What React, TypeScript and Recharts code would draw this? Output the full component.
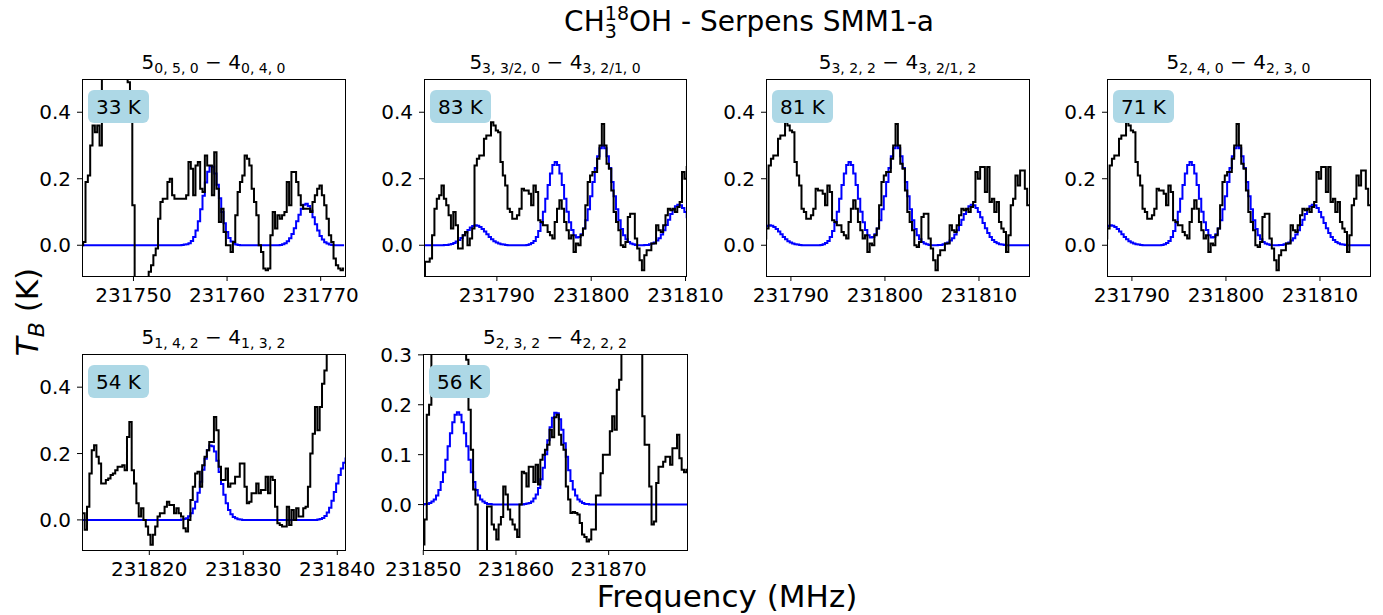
import { LineChart, Line, XAxis, YAxis } from "recharts";

const FONT = "DejaVu Sans, sans-serif";
const CHAN = 0.25; // MHz per channel

// 5(0,5,0)-4(0,4,0) window
const startA = 231744.5;
const obsA = [
  0.0, 0.01, 0.19, 0.21,
  0.3, 0.36, 0.34, 0.36,
  0.3, 0.55, 0.6, 0.6,
  0.6, 0.6, 0.6, 0.6,
  0.6, 0.6, 0.6, 0.6,
  0.49, 0.4, 0.12, -0.2,
  -0.2, -0.2, -0.2, -0.2,
  -0.2, -0.08, -0.06, -0.03,
  -0.01, 0.08, 0.13, 0.14,
  0.14, 0.19, 0.2, 0.15,
  0.14, 0.14, 0.14, 0.14,
  0.14, 0.15, 0.25, 0.23,
  0.15, 0.24, 0.25, 0.17,
  0.16, 0.27, 0.24, 0.24,
  0.15, 0.28, 0.17, 0.07,
  0.11, 0.04, 0.0, 0.0,
  -0.02, 0.01, 0.09, 0.16,
  0.19, 0.21, 0.27, 0.26,
  0.24, 0.17, 0.13, 0.09,
  0.0, -0.02, -0.07, -0.075,
  -0.07, 0.03, 0.1, 0.05,
  0.09, 0.08, 0.09, 0.1,
  0.19, 0.12, 0.22, 0.22,
  0.19, 0.15, 0.12, 0.11,
  0.11, 0.11, 0.1, 0.13,
  0.15, 0.17, 0.18, 0.15,
  0.12, 0.08, 0.03, 0.01,
  -0.04, -0.06, -0.07, -0.075,
  -0.07,
];
const modA = [
  0, 0, 0, 0,
  0, 0, 0, 0,
  0, 0, 0, 0,
  0, 0, 0, 0,
  0, 0, 0, 0,
  0, 0, 0, 0,
  0, 0, 0, 0,
  0, 0, 0, 0,
  0, 0, 0, 0,
  0, 0, 0, 0,
  0, 0, 0, 0.001,
  0.002, 0.003, 0.006, 0.013,
  0.025, 0.044, 0.072, 0.108,
  0.149, 0.189, 0.221, 0.238,
  0.236, 0.216, 0.182, 0.141,
  0.1, 0.066, 0.04, 0.022,
  0.011, 0.005, 0.002, 0.001,
  0, 0, 0, 0,
  0, 0, 0, 0,
  0, 0, 0, 0,
  0, 0, 0, 0,
  0, 0.001, 0.003, 0.006,
  0.012, 0.021, 0.034, 0.051,
  0.072, 0.092, 0.11, 0.122,
  0.125, 0.118, 0.104, 0.084,
  0.063, 0.044, 0.028, 0.017,
  0.009, 0.005, 0.002, 0.001,
  0, 0, 0, 0,
  0,
];

// shared window for the three K=3/K=2 lines
const startB = 231782.25;
const obsB = [
  -0.1, -0.05, -0.05, -0.04,
  0.03, 0.11, 0.14, 0.15,
  0.18, 0.14, 0.12, 0.09,
  0.05, 0.1, 0.06, -0.01,
  -0.01, 0.03, 0.04, 0.0,
  0.02, 0.05, 0.24, 0.26,
  0.27, 0.27, 0.32, 0.33,
  0.33, 0.37, 0.36, 0.345,
  0.34, 0.25, 0.21, 0.18,
  0.11, 0.1, 0.08, 0.08,
  0.09, 0.11, 0.17, 0.165,
  0.165, 0.155, 0.12, 0.18,
  0.16, 0.075, 0.07, 0.06,
  0.06, 0.04, 0.03, 0.02,
  0.07, 0.11, 0.135, 0.11,
  0.07, 0.045, 0.02, 0.03,
  -0.02, 0.005, 0.0, 0.03,
  0.05, 0.12, 0.19, 0.21,
  0.22, 0.22, 0.26, 0.3,
  0.365, 0.3, 0.245, 0.23,
  0.165, 0.1, 0.07, 0.045,
  0.0, -0.005, 0.01, 0.085,
  0.095, 0.095, 0.02, -0.01,
  -0.045, -0.075, -0.03, -0.015,
  -0.015, 0.005, 0.005, 0.06,
  0.045, 0.04, 0.06, 0.09,
  0.11, 0.105, 0.11, 0.1,
  0.115, 0.13, 0.22, 0.2,
  0.235, 0.235, 0.16, 0.235,
  0.13, 0.14, 0.1, 0.13,
  0.07, 0.05, 0.04, -0.02,
  0.03, 0.12, 0.14, 0.21,
  0.18, 0.225, 0.225, 0.17,
  0.12, 0.12,
];
const modB = [
  0, 0, 0, 0,
  0, 0, 0, 0,
  0, 0.001, 0.001, 0.002,
  0.004, 0.007, 0.011, 0.016,
  0.022, 0.03, 0.038, 0.046,
  0.053, 0.058, 0.06, 0.059,
  0.055, 0.049, 0.041, 0.033,
  0.025, 0.018, 0.012, 0.008,
  0.005, 0.003, 0.002, 0.001,
  0, 0, 0, 0,
  0, 0, 0, 0,
  0.001, 0.003, 0.007, 0.013,
  0.025, 0.043, 0.068, 0.101,
  0.14, 0.181, 0.216, 0.241,
  0.25, 0.241, 0.216, 0.181,
  0.14, 0.101, 0.069, 0.046,
  0.03, 0.023, 0.025, 0.033,
  0.05, 0.075, 0.108, 0.147,
  0.19, 0.232, 0.268, 0.292,
  0.3, 0.292, 0.268, 0.232,
  0.19, 0.147, 0.108, 0.075,
  0.049, 0.03, 0.018, 0.01,
  0.005, 0.003, 0.001, 0,
  0, 0, 0.001, 0.001,
  0.003, 0.005, 0.008, 0.014,
  0.021, 0.032, 0.045, 0.061,
  0.077, 0.094, 0.108, 0.117,
  0.122, 0.12, 0.112, 0.1,
  0.084, 0.067, 0.051, 0.037,
  0.025, 0.016, 0.01, 0.006,
  0.003, 0.002, 0.001, 0,
  0, 0, 0, 0,
  0, 0, 0, 0,
  0, 0,
];

// 5(1,4,2)-4(1,3,2) window
const startC = 231812.75;
const obsC = [
  0.02, 0.02, -0.03, 0.04,
  0.14, 0.21, 0.225, 0.19,
  0.17, 0.11, 0.11, 0.12,
  0.125, 0.135, 0.14, 0.15,
  0.16, 0.16, 0.165, 0.15,
  0.25, 0.295, 0.15, 0.11,
  0.05, 0.01, 0.035, 0.0,
  -0.02, -0.045, -0.075, -0.045,
  -0.02, 0.01, 0.02, 0.02,
  0.04, 0.055, 0.045, 0.045,
  0.02, 0.035, 0.02, 0.01,
  -0.025, -0.035, 0.0, 0.06,
  0.1, 0.14, 0.145, 0.1,
  0.165, 0.19, 0.21, 0.235,
  0.235, 0.31, 0.27, 0.16,
  0.12, 0.12, 0.155, 0.1,
  0.11, 0.11, 0.13, 0.13,
  0.17, 0.17, 0.1, 0.05,
  0.055, 0.08, 0.08, 0.11,
  0.08, 0.09, 0.09, 0.13,
  0.08, 0.13, 0.12, 0.04,
  -0.01, -0.015, -0.02, -0.02,
  0.04, -0.015, 0.03, 0.0,
  0.035, 0.01, 0.01, 0.035,
  0.04, 0.1, 0.2, 0.26,
  0.34, 0.27, 0.34, 0.41,
  0.45, 0.5, 0.56, 0.6,
  0.6, 0.6, 0.6, 0.6,
  0.6, 0.6,
];
const modC = [
  0, 0, 0, 0,
  0, 0, 0, 0,
  0, 0, 0, 0,
  0, 0, 0, 0,
  0, 0, 0, 0,
  0, 0, 0, 0,
  0, 0, 0, 0,
  0, 0, 0, 0,
  0, 0, 0, 0,
  0, 0, 0, 0,
  0, 0, 0, 0.001,
  0.003, 0.005, 0.011, 0.02,
  0.034, 0.055, 0.082, 0.115,
  0.151, 0.184, 0.21, 0.224,
  0.222, 0.206, 0.178, 0.144,
  0.108, 0.076, 0.05, 0.03,
  0.017, 0.009, 0.005, 0.002,
  0.001, 0, 0, 0,
  0, 0, 0, 0,
  0, 0, 0, 0,
  0, 0, 0, 0,
  0, 0, 0, 0,
  0, 0, 0, 0,
  0, 0, 0, 0,
  0, 0, 0, 0,
  0, 0.001, 0.003, 0.006,
  0.012, 0.022, 0.037, 0.058,
  0.084, 0.11, 0.135, 0.155,
  0.172, 0.185,
];

// 5(2,3,2)-4(2,2,2) window
const startD = 231850.0;
const obsD = [
  -0.08, -0.03, 0.18, 0.2,
  0.35, 0.35, 0.35, 0.35,
  0.35, 0.35, 0.35, 0.35,
  0.35, 0.35, 0.35, 0.35,
  0.35, 0.35, 0.35, 0.29,
  0.19, 0.11, 0.03, 0.0,
  -0.15, -0.15, -0.15, -0.15,
  -0.004, -0.004, -0.04, -0.05,
  -0.07, -0.04, -0.025, 0.036,
  0.02, -0.01, -0.03, -0.04,
  -0.05, -0.065, 0.0, 0.066,
  0.063, 0.036, 0.076, 0.076,
  0.045, 0.08, 0.04, 0.09,
  0.1, 0.11, 0.12, 0.15,
  0.135, 0.175, 0.18, 0.14,
  0.12, 0.11, 0.036, 0.01,
  -0.017, -0.015, -0.017, -0.02,
  -0.037, -0.06, -0.065, -0.074,
  -0.07, -0.05, -0.05, 0.018,
  0.018, 0.063, 0.1, 0.1,
  0.1, 0.147, 0.177, 0.15,
  0.23, 0.25, 0.35, 0.35,
  0.35, 0.35, 0.35, 0.35,
  0.35, 0.35, 0.35, 0.177,
  0.12, 0.12, 0.036, -0.04,
  -0.034, 0.043, 0.076, 0.076,
  0.086, 0.096, 0.096, 0.08,
  0.113, 0.113, 0.14, 0.093,
  0.07, 0.065, 0.07,
];
const modD = [
  0, 0.001, 0.001, 0.003,
  0.006, 0.01, 0.018, 0.029,
  0.045, 0.065, 0.09, 0.117,
  0.143, 0.165, 0.18, 0.185,
  0.18, 0.165, 0.143, 0.117,
  0.09, 0.065, 0.045, 0.029,
  0.018, 0.01, 0.006, 0.003,
  0.001, 0.001, 0, 0,
  0, 0, 0, 0,
  0, 0, 0, 0,
  0, 0, 0, 0,
  0.001, 0.002, 0.003, 0.006,
  0.012, 0.02, 0.033, 0.051,
  0.074, 0.101, 0.129, 0.155,
  0.174, 0.184, 0.183, 0.171,
  0.15, 0.123, 0.096, 0.069,
  0.047, 0.03, 0.018, 0.01,
  0.006, 0.003, 0.001, 0.001,
  0, 0, 0, 0,
  0, 0, 0, 0,
  0, 0, 0, 0,
  0, 0, 0, 0,
  0, 0, 0, 0,
  0, 0, 0, 0,
  0, 0, 0, 0,
  0, 0, 0, 0,
  0, 0, 0, 0,
  0, 0, 0, 0,
  0, 0, 0,
];

const ticksA = [231750, 231760, 231770];
const ticksB = [231790, 231800, 231810];
const ticksC = [231820, 231830, 231840];
const ticksD = [231850, 231860, 231870];
const yTicksWide = [0, 0.2, 0.4];
const yTicksNarrow = [0, 0.1, 0.2, 0.3];

const tempLabels = ["33 K", "83 K", "81 K", "71 K", "54 K", "56 K"];
const transitions = [
  ["5", "0, 5, 0", "4", "0, 4, 0"],
  ["5", "3, 3/2, 0", "4", "3, 2/1, 0"],
  ["5", "3, 2, 2", "4", "3, 2/1, 2"],
  ["5", "2, 4, 0", "4", "2, 3, 0"],
  ["5", "1, 4, 2", "4", "1, 3, 2"],
  ["5", "2, 3, 2", "4", "2, 2, 2"],
];

function toRows(start: number, obs: number[], mod: number[]) {
  return obs.map((v, i) => ({ f: start + i * CHAN, obs: v, mod: mod[i] }));
}

const rowsA = toRows(startA, obsA, modA);
const rowsB = toRows(startB, obsB, modB);
const rowsC = toRows(startC, obsC, modC);
const rowsD = toRows(startD, obsD, modD);

const panels = [
  { x: 82, y: 79, w: 263, h: 197, rows: rowsA, xd: [231744.5, 231772.6], xt: ticksA, yd: [-0.0925, 0.5], yt: yTicksWide },
  { x: 424, y: 79, w: 262, h: 197, rows: rowsB, xd: [231782.27, 231810.05], xt: ticksB, yd: [-0.0925, 0.5], yt: yTicksWide },
  { x: 766, y: 79, w: 263, h: 197, rows: rowsB, xd: [231787.35, 231815.32], xt: ticksB, yd: [-0.0925, 0.5], yt: yTicksWide },
  { x: 1107, y: 79, w: 263, h: 197, rows: rowsB, xd: [231787.35, 231815.32], xt: ticksB, yd: [-0.0925, 0.5], yt: yTicksWide },
  { x: 82, y: 354, w: 263, h: 196, rows: rowsC, xd: [231812.84, 231840.82], xt: ticksC, yd: [-0.0907, 0.5], yt: yTicksWide },
  { x: 423, y: 354, w: 264, h: 196, rows: rowsD, xd: [231849.97, 231878.45], xt: ticksD, yd: [-0.091, 0.3017], yt: yTicksNarrow },
];

const tickStyle = { fontSize: 20, fill: "#000", fontFamily: FONT };

function Panel({ p }: { p: (typeof panels)[number] }) {
  return (
    <div style={{ position: "absolute", left: p.x - 60, top: p.y - 10 }}>
      <LineChart
        width={p.w + 110}
        height={p.h + 45}
        data={p.rows}
        margin={{ top: 10, right: 50, bottom: 5, left: 10 }}
      >
        <XAxis
          type="number"
          dataKey="f"
          domain={p.xd}
          allowDataOverflow
          ticks={p.xt}
          interval={0}
          height={30}
          tickSize={5}
          tickMargin={7}
          axisLine={false}
          stroke="#000"
          tick={tickStyle}
        />
        <YAxis
          type="number"
          domain={p.yd}
          allowDataOverflow
          ticks={p.yt}
          interval={0}
          width={50}
          tickSize={5}
          tickMargin={6}
          axisLine={false}
          stroke="#000"
          tick={tickStyle}
          tickFormatter={(v) => Number(v).toFixed(1)}
        />
        <Line dataKey="mod" type="step" stroke="#0000ff" strokeWidth={2} dot={false} isAnimationActive={false} />
        <Line dataKey="obs" type="step" stroke="#000" strokeWidth={2} dot={false} isAnimationActive={false} />
      </LineChart>
    </div>
  );
}

export default function App() {
  return (
    <div style={{ position: "absolute", left: 0, top: 0, width: 1383, height: 615, background: "#fff", fontFamily: FONT, overflow: "hidden" }}>
      {panels.map((p, i) => (
        <Panel key={i} p={p} />
      ))}
      {panels.map((p, i) => (
        <div
          key={"f" + i}
          style={{ position: "absolute", left: p.x, top: p.y, width: p.w + 1, height: p.h + 1, border: "1px solid #000", boxSizing: "border-box", pointerEvents: "none" }}
        />
      ))}
      {panels.map((p, i) => (
        <div
          key={"l" + i}
          style={{
            position: "absolute",
            left: p.x + 6,
            top: p.y + 11,
            width: 61,
            height: 33,
            background: "#ADD8E6",
            borderRadius: 6,
            display: "flex",
            alignItems: "center",
            justifyContent: "center",
            fontSize: 20,
            color: "#000",
          }}
        >
          {tempLabels[i]}
        </div>
      ))}
      <svg width={1383} height={615} style={{ position: "absolute", left: 0, top: 0, pointerEvents: "none" }}>
        <g fontFamily={FONT} fill="#000" style={{ whiteSpace: "pre" }}>
          <text x={749} y={31} fontSize={28} textAnchor="middle">
            <tspan>CH</tspan>
            <tspan fontSize={19} dy={7}>3</tspan>
            <tspan fontSize={19} dx={-12} dy={-18}>18</tspan>
            <tspan dy={11}>OH - Serpens SMM1-a</tspan>
          </text>
          <text x={727} y={607} fontSize={31} textAnchor="middle">Frequency (MHz)</text>
          <text transform="translate(38,312) rotate(-90)" fontSize={31} textAnchor="middle">
            <tspan fontStyle="italic">T</tspan>
            <tspan fontStyle="italic" fontSize={22} dy={6}>B</tspan>
            <tspan dy={-6}> (K)</tspan>
          </text>
          {panels.map((p, i) => {
            const t = transitions[i];
            return (
              <text key={"t" + i} x={p.x + p.w / 2} y={p.y - 10} fontSize={20} textAnchor="middle">
                <tspan>{t[0]}</tspan>
                <tspan fontSize={14} dy={4}>{t[1]}</tspan>
                <tspan dy={-4}>{" \u2212 " + t[2]}</tspan>
                <tspan fontSize={14} dy={4}>{t[3]}</tspan>
              </text>
            );
          })}
        </g>
      </svg>
    </div>
  );
}
